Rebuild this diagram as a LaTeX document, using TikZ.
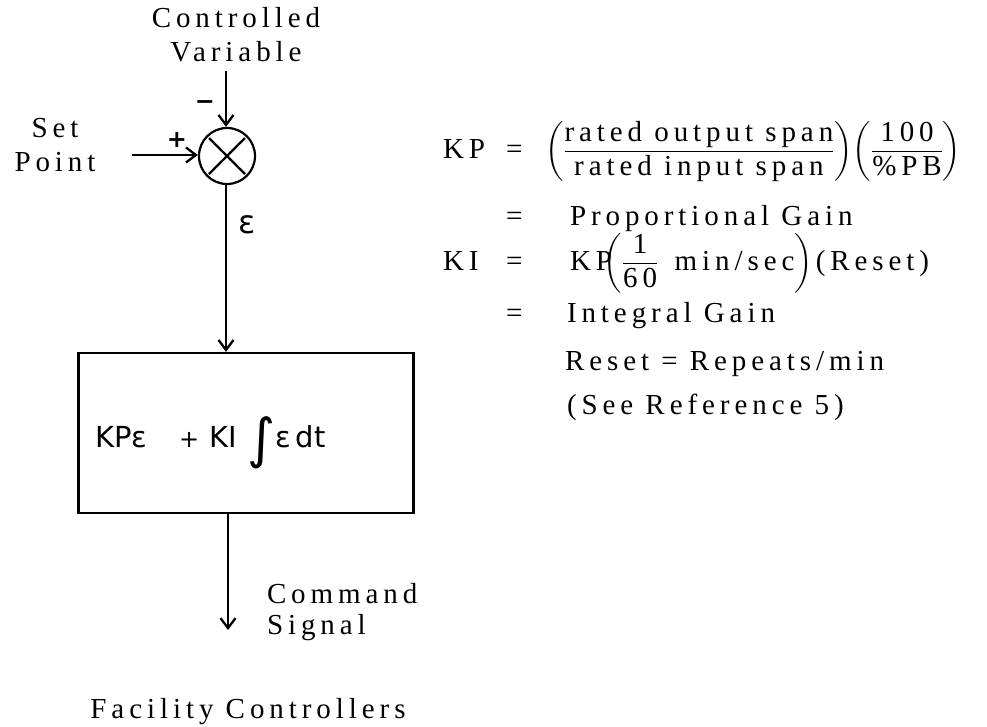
\documentclass[tikz,border=0pt]{standalone}
\usepackage{fontspec}
\usepackage{amsmath}
\setmainfont{Liberation Serif}[LetterSpace=17]
\newfontfamily\handfont{DejaVu Sans}
\usetikzlibrary{arrows.meta}
\begin{document}
\begin{tikzpicture}[x=1pt,y=-1pt,
  txt/.style={font=\fontsize{29}{34}\selectfont, inner sep=0pt, outer sep=0pt},
  wire/.style={line width=2.3pt},
  arr/.style={wire, -{Straight Barb[length=10pt,width=15pt,line width=2.3pt]}},
  hand/.style={font=\handfont\fontsize{29}{30}\selectfont, inner sep=0pt},
  sign/.style={font=\handfont\bfseries\fontsize{24}{24}\selectfont, inner sep=0pt},
  sumnode/.style={circle, draw, line width=2.2pt, minimum size=56pt, inner sep=0pt},
  blockbox/.style={draw, line width=2.3pt, rectangle, inner sep=0pt}
]
\useasboundingbox (0,0) rectangle (987,726);

% ---------- left: block diagram ----------
\node[txt, align=center, anchor=south] (cv) at (236,62) {Controlled\\Variable};
\coordinate (cvend) at (226,71);
\node[sumnode] (sum) at (227,156) {};
\draw[wire] (sum.center) ++(-18,-18) -- ++(36,36);
\draw[wire] (sum.center) ++(18,-18) -- ++(-36,36);
\draw[arr] (cvend) -- (sum.north -| cvend);
\node[sign] (minus) at (205,105) {−};

\node[txt, align=center, anchor=south] (sp) at (55,172) {Set\\Point};
\coordinate (spend) at (132,155);
\draw[arr] (spend) -- (spend -| sum.west);
\node[sign] (plus) at (177,140) {+};

\node[blockbox, minimum width=335pt, minimum height=160pt] (ctrl) at (246,433) {};
\node[hand, anchor=base west] (law) at (95,447)
  {\makebox[84pt][l]{KPε}\makebox[30pt][l]{\fontsize{24}{24}\selectfont +}\makebox[38pt][l]{KI}\raisebox{-10pt}{\fontsize{54}{54}\selectfont ∫}ε\,dt};
\draw[arr] (sum.south -| cvend) -- (cvend |- ctrl.north);
\node[hand, font=\handfont\fontsize{32}{32}\selectfont] (eps) at (247,225) {ε};

\coordinate (outend) at (228,630);
\draw[arr] (outend |- ctrl.south) -- (outend);
\node[txt, align=left, anchor=south west, font=\fontsize{29}{31}\selectfont] (cmd) at (267,641) {Command\\Signal};

\node[txt, anchor=base] (title) at (248,718) {Facility Controllers};

% ---------- right: equations ----------
\node[txt, anchor=base west] (kp) at (443,158) {KP};
\node[txt, anchor=base west] (eq1) at (506,158) {=};
\node[txt, anchor=base west] (kpdef) at (545,158)
  {$\displaystyle\left(\frac{\mbox{rated output span}}{\mbox{rated input span}}\right)\mkern-3mu\left(\frac{\mbox{100}}{\mbox{\%PB}}\right)$};

\node[txt, anchor=base west] (eq2) at (506,225) {=};
\node[txt, anchor=base west] (pg) at (570,225) {Proportional Gain};

\node[txt, anchor=base west] (ki) at (443,270) {KI};
\node[txt, anchor=base west] (eq3) at (506,270) {=};
\node[txt, anchor=base west] (kidef) at (570,270)
  {KP$\displaystyle\!\!\left(\frac{\mbox{1}}{\mbox{60}}\,\mbox{ min/sec}\right)$\hspace{3pt}(Reset)};

\node[txt, anchor=base west] (eq4) at (506,322) {=};
\node[txt, anchor=base west] (ig) at (567,322) {Integral Gain};

\node[txt, anchor=base west] (rs) at (565,370) {Reset = Repeats/min};
\node[txt, anchor=base west] (see) at (567,414) {(See Reference 5)};
\end{tikzpicture}
\end{document}
